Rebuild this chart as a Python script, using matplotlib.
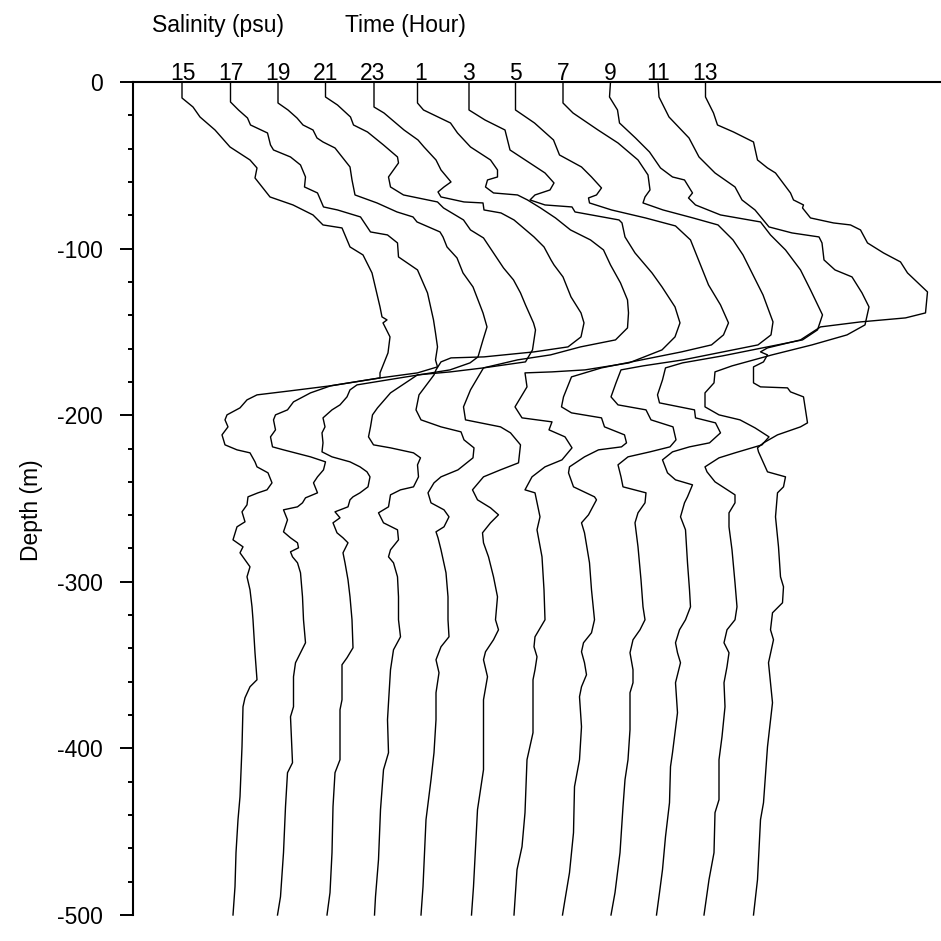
import matplotlib
matplotlib.use("Agg")
import matplotlib.pyplot as plt
from matplotlib.ticker import MultipleLocator

plt.rcParams['font.family'] = ['Liberation Sans', 'DejaVu Sans']
plt.rcParams['axes.unicode_minus'] = False

# hour of each cast, left to right
hours = ['15', '17', '19', '21', '23', '1', '3', '5', '7', '9', '11', '13']

# each profile: depth (m) and salinity shift (psu) from its own surface value
d15 = [0, -9.6, -15, -21, -28.8, -39, -46.8, -51.6, -57.6, -69, -73.8, -79.8, -85.8, -87.6, -99, -103.8, -114.6, -135, -141, -142.8, -144.6, -153, -162.6, -174.6, -177.6, -182.4, -185.4, -187.8, -190.8, -195.6, -199.8, -202.8, -207, -211.8, -217.8, -220.8, -222.6, -228, -231, -234.6, -240.6, -244.8, -246.6, -249, -253.8, -258, -264, -267, -274.8, -279, -282.6, -286.8, -291, -297, -304.8, -315, -322.8, -342.6, -358.8, -363, -369.6, -375, -399, -429, -442.8, -462.6, -483, -500]
s15 = [-0.02, -0.02, 0.20, 0.34, 0.64, 0.94, 1.34, 1.48, 1.44, 1.74, 2.20, 2.60, 2.80, 3.18, 3.34, 3.60, 3.78, 3.94, 3.98, 4.08, 4.00, 4.14, 4.10, 3.94, 3.94, 2.94, 2.14, 1.48, 1.28, 1.14, 0.88, 0.84, 0.90, 0.78, 0.84, 1.08, 1.34, 1.44, 1.48, 1.70, 1.78, 1.68, 1.50, 1.30, 1.28, 1.18, 1.24, 1.08, 1.00, 1.20, 1.14, 1.24, 1.34, 1.28, 1.34, 1.38, 1.40, 1.44, 1.48, 1.34, 1.24, 1.20, 1.18, 1.14, 1.10, 1.06, 1.04, 1.00]

d17 = [0, -12, -16.8, -21.6, -25.8, -30.6, -37.8, -40.8, -45, -49.8, -57, -63, -66.6, -75, -76.8, -81, -90, -91.8, -96.6, -105, -112.8, -126.6, -142.8, -150.6, -159, -166.8, -171, -174.6, -177.6, -182.4, -186.6, -192, -196.8, -199.8, -202.8, -208.8, -213, -219, -220.8, -225, -228, -232.8, -237, -240.6, -246.6, -249.6, -252.6, -255, -256.8, -262.8, -270, -273.6, -276.6, -279.6, -282, -285, -288.6, -294.6, -309, -322.8, -336.6, -348.6, -357, -375, -381, -408.6, -414.6, -435, -462.6, -489, -500]
s17 = [0, 0, 0.16, 0.34, 0.40, 0.74, 0.80, 0.86, 1.20, 1.40, 1.50, 1.48, 1.74, 1.86, 2.14, 2.60, 2.80, 3.14, 3.34, 3.36, 3.74, 3.94, 4.06, 4.10, 4.14, 4.10, 4.14, 3.74, 3.00, 2.00, 1.60, 1.26, 1.14, 0.90, 0.86, 0.90, 0.80, 0.84, 1.06, 1.60, 1.90, 1.86, 1.74, 1.66, 1.74, 1.50, 1.44, 1.34, 1.06, 1.14, 1.06, 1.20, 1.34, 1.36, 1.20, 1.24, 1.34, 1.40, 1.44, 1.46, 1.50, 1.30, 1.26, 1.26, 1.20, 1.24, 1.14, 1.10, 1.06, 1.00, 0.94]

d19 = [0, -12.6, -16.8, -21.6, -25.8, -28.8, -33.6, -36, -39.6, -51, -58.8, -67.8, -72.6, -78, -81, -84, -90, -93, -99, -105.6, -114.6, -123, -138.6, -147, -154.8, -165, -168.6, -172.8, -177.6, -181.8, -184.8, -189, -193.8, -196.8, -201.6, -207, -210.6, -216.6, -222, -225, -228, -231, -234, -237, -243, -246.6, -249, -250.8, -255, -258, -261.6, -264.6, -270.6, -273.6, -276.6, -282.6, -288.6, -298.8, -309, -322.8, -339.6, -345.6, -349.8, -370.8, -376.8, -406.8, -414.6, -435, -462.6, -486.6, -500]
s19 = [0, 0, 0.20, 0.38, 0.50, 0.70, 0.78, 0.90, 1.14, 1.44, 1.48, 1.54, 1.98, 2.38, 2.70, 2.78, 3.24, 3.30, 3.38, 3.58, 3.70, 3.90, 4.10, 4.18, 4.10, 4.00, 3.84, 3.44, 2.44, 1.58, 1.44, 1.38, 1.24, 1.08, 0.90, 0.94, 0.88, 0.90, 0.88, 1.08, 1.44, 1.64, 1.78, 1.84, 1.80, 1.64, 1.50, 1.44, 1.40, 1.14, 1.24, 1.10, 1.18, 1.30, 1.40, 1.30, 1.34, 1.40, 1.44, 1.48, 1.50, 1.38, 1.28, 1.28, 1.24, 1.24, 1.14, 1.10, 1.08, 1.04, 0.98]

d21 = [0, -9, -13.8, -21, -25.8, -30, -37.8, -45, -48.6, -52.8, -57, -63, -67.8, -72, -75.6, -82.8, -88.8, -93.6, -102.6, -111.6, -118.8, -126.6, -133.8, -144.6, -148.8, -160.8, -168, -171.6, -174, -175.8, -186.6, -195.6, -199.8, -207, -213, -217.8, -219.6, -222.6, -225.6, -229.8, -237, -243, -244.8, -247.8, -255, -258.6, -264.6, -268.8, -274.8, -280.8, -285, -288.6, -297, -309, -322.8, -333, -340.8, -352.8, -372.6, -382.8, -402.6, -412.8, -436.8, -466.8, -489, -500]
s21 = [0, 0, 0.24, 0.50, 0.56, 0.84, 1.16, 1.44, 1.46, 1.36, 1.26, 1.30, 1.56, 2.24, 2.36, 2.76, 2.90, 3.16, 3.36, 3.56, 3.76, 3.90, 4.00, 4.16, 4.20, 4.14, 4.00, 3.16, 2.50, 1.84, 1.30, 1.04, 0.94, 0.90, 0.86, 0.96, 1.30, 1.76, 1.90, 1.84, 1.86, 1.76, 1.50, 1.30, 1.26, 1.06, 1.16, 1.44, 1.46, 1.30, 1.26, 1.36, 1.44, 1.46, 1.46, 1.50, 1.36, 1.30, 1.26, 1.24, 1.26, 1.16, 1.10, 1.06, 1.00, 0.98]

d23 = [0, -15, -18.6, -28.8, -34.8, -39, -46.8, -52.8, -60, -63, -66, -69, -72, -72.6, -76.8, -78.6, -82.8, -93, -99, -106.8, -109.8, -117, -129, -138.6, -144.6, -153, -159, -162, -165, -165.6, -168, -172.8, -175.8, -180.6, -187.8, -196.8, -202.8, -207, -210, -214.8, -219.6, -225.6, -232.8, -237, -240.6, -246.6, -252.6, -256.8, -261, -267, -270, -273.6, -280.8, -294.6, -309, -322.8, -333, -339, -346.8, -354.6, -366.6, -382.8, -402.6, -418.8, -442.8, -483, -500]
s23 = [0.02, 0.02, 0.22, 0.62, 0.90, 1.02, 1.26, 1.36, 1.56, 1.42, 1.30, 1.36, 1.82, 2.20, 2.22, 2.56, 2.82, 3.22, 3.42, 3.56, 3.62, 3.80, 3.96, 4.16, 4.22, 4.16, 3.90, 3.22, 2.22, 1.56, 1.36, 1.26, 1.22, 1.10, 0.92, 0.86, 0.96, 1.36, 1.76, 1.82, 2.02, 2.00, 1.70, 1.36, 1.22, 1.10, 1.16, 1.42, 1.52, 1.42, 1.26, 1.30, 1.36, 1.46, 1.50, 1.50, 1.52, 1.36, 1.26, 1.32, 1.26, 1.26, 1.22, 1.16, 1.06, 1.00, 0.96]

d01 = [0, -12.6, -16.8, -24.6, -30.6, -39, -46.8, -52.8, -57, -58.8, -63, -66.6, -67.8, -70.8, -75.6, -81.6, -88.8, -94.8, -100.8, -109.8, -120.6, -130.8, -138.6, -147.6, -154.8, -159, -163.8, -166.8, -171.6, -184.8, -195, -202.8, -207, -210.6, -217.8, -228.6, -232.8, -237, -244.8, -250.8, -255.6, -259.8, -264.6, -270.6, -276.6, -285, -297, -309, -322.8, -328.8, -334.8, -342, -346.8, -357, -370.8, -412.8, -424.8, -436.8, -483, -500]
s01 = [-0.06, -0.06, 0.06, 0.60, 0.74, 1.00, 1.40, 1.54, 1.54, 1.34, 1.30, 1.46, 1.94, 2.14, 2.40, 2.70, 3.00, 3.40, 3.66, 3.80, 4.00, 4.14, 4.16, 4.14, 3.90, 3.20, 2.60, 1.94, 1.26, 1.00, 0.86, 0.90, 1.60, 1.80, 2.00, 1.96, 1.60, 1.26, 1.04, 1.14, 1.40, 1.56, 1.40, 1.24, 1.26, 1.36, 1.46, 1.54, 1.50, 1.56, 1.46, 1.30, 1.26, 1.34, 1.26, 1.26, 1.20, 1.14, 1.06, 1.02]

d03 = [0, -16.8, -22.8, -28.8, -40.8, -54.6, -60.6, -64.8, -67.8, -70.8, -73.8, -75, -78, -82.8, -84.6, -93, -102.6, -114.6, -123, -135, -144.6, -153, -160.8, -168.6, -172.8, -174, -174.6, -183, -195, -201.6, -204, -208.8, -213, -219.6, -226.8, -231, -237, -244.8, -246.6, -261, -268.8, -285, -304.8, -322.8, -333, -339, -345, -352.8, -358.8, -390.6, -406.8, -438.6, -459, -472.8, -500]
s03 = [0.02, 0.02, 0.34, 0.74, 0.84, 1.54, 1.72, 1.64, 1.34, 1.24, 1.54, 2.08, 2.14, 3.02, 3.08, 3.14, 3.34, 3.68, 3.88, 4.14, 4.24, 4.14, 3.88, 3.22, 2.34, 1.68, 1.14, 1.18, 0.94, 1.08, 1.68, 1.62, 1.94, 2.08, 1.88, 1.54, 1.28, 1.14, 1.34, 1.44, 1.38, 1.48, 1.52, 1.54, 1.34, 1.32, 1.38, 1.34, 1.30, 1.30, 1.18, 1.14, 1.08, 0.98, 0.92]

d05 = [0, -16.8, -24.6, -34.8, -43.8, -51, -57, -63.6, -67.8, -69.6, -72.6, -76.8, -81.6, -86.4, -94.8, -106.8, -121.8, -133.8, -144.6, -151.8, -157.8, -162, -166.8, -171.6, -177, -189, -195, -198.6, -201.6, -207, -211.8, -216.6, -219, -220.8, -225, -231, -234.6, -243, -249, -250.8, -259.8, -264.6, -270.6, -288.6, -304.8, -322.8, -330.6, -336.6, -342, -348.6, -355.8, -363, -369, -387, -406.8, -423, -450.6, -474.6, -492.6, -500]
s05 = [0, 0, 0.38, 0.76, 0.88, 1.32, 1.52, 1.72, 1.62, 1.46, 1.48, 1.92, 2.60, 3.20, 3.50, 3.66, 3.86, 4.10, 4.26, 4.16, 3.92, 3.32, 2.52, 1.72, 1.12, 0.96, 0.92, 1.12, 1.72, 1.78, 2.18, 2.22, 2.12, 1.66, 1.38, 1.08, 1.06, 1.16, 1.58, 1.62, 1.46, 1.32, 1.38, 1.48, 1.52, 1.58, 1.52, 1.36, 1.32, 1.38, 1.42, 1.32, 1.28, 1.32, 1.28, 1.18, 1.16, 1.08, 0.98, 0.94]

d07 = [0, -12.6, -18.6, -28.8, -36.6, -46.8, -55.8, -64.8, -69, -72.6, -76.8, -81.6, -85.8, -94.8, -103.8, -115.8, -127.8, -144, -151.8, -157.8, -162, -166.8, -170.4, -172.8, -180.6, -189, -193.8, -196.8, -202.8, -207, -214.8, -219, -222, -225, -229.8, -237, -243, -246.6, -252.6, -258.6, -264.6, -279, -298.8, -315, -322.8, -328.8, -334.8, -342.6, -352.8, -360.6, -366.6, -388.8, -406.8, -418.8, -435, -462.6, -486.6, -500]
s07 = [0, 0, 0.20, 0.70, 1.10, 1.50, 1.70, 1.74, 1.64, 1.60, 2.00, 2.60, 3.10, 3.40, 3.60, 3.80, 4.00, 4.20, 4.16, 3.90, 3.20, 2.40, 1.60, 1.16, 1.06, 0.96, 1.10, 1.66, 1.76, 2.20, 2.26, 2.14, 1.74, 1.30, 1.10, 1.16, 1.20, 1.66, 1.64, 1.50, 1.44, 1.50, 1.56, 1.60, 1.64, 1.54, 1.40, 1.34, 1.40, 1.40, 1.34, 1.34, 1.30, 1.24, 1.20, 1.14, 1.04, 0.96]

d09 = [0, -9, -16.8, -24.6, -33.6, -42, -51.6, -57, -58.8, -66.6, -69.6, -73.8, -79.8, -84, -91.8, -100.8, -112.8, -124.8, -139.8, -148.8, -154.8, -159.6, -164.4, -168.6, -171.6, -178.8, -187.8, -192.6, -196.8, -201.6, -204.6, -210.6, -216.6, -219, -222, -226.8, -234.6, -238.8, -241.8, -249, -252.6, -261, -268.8, -288.6, -304.8, -315, -322.8, -328.8, -336.6, -342.6, -348.6, -360.6, -378.6, -402.6, -411, -432.6, -453, -472.8, -486.6, -500]
s09 = [0, -0.02, 0.14, 0.18, 0.50, 0.78, 1.00, 1.24, 1.48, 1.64, 1.56, 1.70, 2.20, 3.00, 3.20, 3.50, 3.80, 4.00, 4.24, 4.14, 3.84, 3.04, 2.24, 1.44, 1.10, 1.04, 0.94, 0.98, 1.68, 1.70, 2.10, 2.20, 1.98, 1.58, 1.24, 1.04, 1.14, 1.30, 1.64, 1.54, 1.48, 1.40, 1.50, 1.54, 1.58, 1.60, 1.50, 1.38, 1.30, 1.34, 1.40, 1.30, 1.34, 1.24, 1.20, 1.18, 1.10, 1.04, 0.98, 0.92]

d11 = [0, -9, -21, -33.6, -45, -54.6, -63, -70.8, -76.8, -87, -90.6, -93, -96.6, -106.8, -112.8, -117, -126.6, -135, -145.8, -151.8, -157.8, -163.8, -170.4, -174, -180.6, -186.6, -195, -199.8, -202.8, -207.6, -213, -217.8, -222.6, -225.6, -231, -234, -240, -247.8, -252.6, -258.6, -267, -280.8, -300.6, -315, -322.8, -328.8, -336.6, -342.6, -351, -360.6, -375, -393, -406.8, -430.8, -438.6, -462.6, -478.8, -500]
s11 = [0, 0.02, 0.22, 0.62, 0.82, 1.14, 1.54, 1.68, 1.94, 2.22, 2.68, 3.22, 3.28, 3.32, 3.54, 3.88, 4.08, 4.22, 4.14, 3.78, 3.08, 2.28, 1.48, 1.14, 1.12, 0.94, 0.94, 1.22, 1.64, 1.94, 2.22, 2.08, 1.54, 1.22, 0.94, 0.98, 1.14, 1.54, 1.54, 1.42, 1.42, 1.48, 1.54, 1.58, 1.54, 1.38, 1.32, 1.42, 1.38, 1.32, 1.34, 1.28, 1.22, 1.22, 1.14, 1.12, 1.02, 0.92]

d13 = [0, -9, -18.6, -25.8, -30, -36, -46.8, -51.6, -54.6, -66.6, -70.8, -73.8, -75.6, -81.6, -84.6, -85.8, -88.8, -96.6, -102.6, -108, -114.6, -126, -138.6, -141.6, -144, -147, -154.8, -159.6, -162, -163.8, -168, -171, -180.6, -183, -183.6, -186, -189, -196.8, -204.6, -207, -211.8, -216.6, -219.6, -222, -234, -237, -243, -246.6, -261, -279, -297, -303, -312.6, -318.6, -328.8, -334.8, -348.6, -372.6, -399, -432.6, -442.8, -478.8, -500]
s13 = [0, 0, 0.16, 0.24, 0.56, 0.96, 1.04, 1.24, 1.40, 1.70, 1.76, 1.96, 1.94, 2.10, 2.56, 2.90, 3.10, 3.24, 3.56, 3.90, 4.04, 4.44, 4.40, 4.00, 3.10, 2.30, 1.90, 1.24, 1.10, 1.24, 1.16, 0.96, 0.96, 1.10, 1.64, 1.70, 1.96, 2.00, 2.04, 1.90, 1.44, 1.16, 1.04, 1.06, 1.24, 1.60, 1.56, 1.44, 1.40, 1.46, 1.50, 1.56, 1.54, 1.34, 1.30, 1.36, 1.26, 1.34, 1.24, 1.16, 1.10, 1.04, 0.96]

depths = [d15, d17, d19, d21, d23, d01, d03, d05, d07, d09, d11, d13]
shifts = [s15, s17, s19, s21, s23, s01, s03, s05, s07, s09, s11, s13]
spacing = 0.95  # psu between successive casts
first = 1.0

fig = plt.figure(figsize=(9.41, 9.41), dpi=100)
ax = fig.add_axes([133 / 941, 1 - 915 / 941, 808 / 941, 833 / 941])

for k in range(len(hours)):
    base = first + spacing * k
    ax.plot([base + s for s in shifts[k]], depths[k], color='black', lw=1.0,
            solid_joinstyle='round', clip_on=False)
    ax.annotate(hours[k], xy=(base, 1), xycoords=('data', 'axes fraction'),
                xytext=(0, 1.5), textcoords='offset points',
                ha='center', va='baseline', fontsize=16.5)

ax.set_xlim(0, 808 / 50)
ax.set_ylim(-500, 0)
ax.set_xticks([])
ax.yaxis.set_major_locator(MultipleLocator(100))
ax.yaxis.set_minor_locator(MultipleLocator(20))
ax.tick_params(axis='y', which='major', length=9.5, width=1.4, pad=12, labelsize=16.5)
ax.tick_params(axis='y', which='minor', length=3.8, width=1.4)
for side in ['right', 'bottom']:
    ax.spines[side].set_visible(False)
for side in ['left', 'top']:
    ax.spines[side].set_linewidth(1.5)

ax.set_ylabel('Depth (m)', fontsize=16.5)
ax.yaxis.set_label_coords(-0.112, 0.486)

fig.text(152 / 941, 1 - 32 / 941, 'Salinity (psu)', fontsize=16.5, va='baseline')
fig.text(345 / 941, 1 - 32 / 941, 'Time (Hour)', fontsize=16.5, va='baseline')

fig.savefig('out.png', dpi=100)
